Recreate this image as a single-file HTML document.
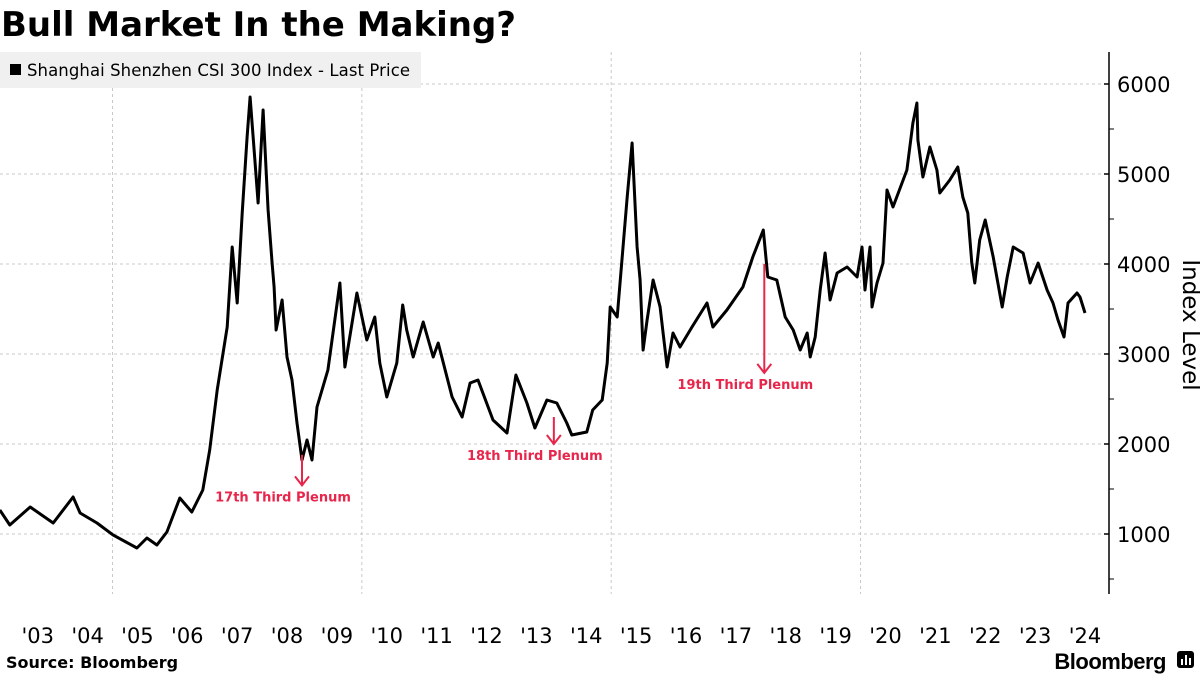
<!DOCTYPE html>
<html><head><meta charset="utf-8">
<style>
body{margin:0;background:#fff;width:1200px;height:675px;overflow:hidden;font-family:"DejaVu Sans","Liberation Sans",sans-serif;}
</style></head>
<body>
<svg width="1200" height="675" viewBox="0 0 1200 675" xmlns="http://www.w3.org/2000/svg">
<text x="1" y="36" font-family="DejaVu Sans, sans-serif" font-weight="bold" font-size="34" fill="#000">Bull Market In the Making?</text>
<g id="grid"></g>
<rect x="0" y="52" width="421" height="36" fill="#f0f0f0"/>
<rect x="10" y="64" width="11" height="11" fill="#000"/>
<text x="27" y="76" font-size="16.5" font-family="DejaVu Sans, sans-serif" fill="#000" textLength="383">Shanghai Shenzhen CSI 300 Index - Last Price</text>
<g id="axis"></g>
<g id="xlabels"></g>
<path id="line" fill="none" stroke="#000" stroke-width="3" stroke-linejoin="round"/>
<g id="notes"></g>
<text x="1183" y="325" font-size="23" font-family="DejaVu Sans, sans-serif" text-anchor="middle" transform="rotate(90 1183 325)">Index Level</text>
<text x="6" y="668" font-size="16" font-weight="bold" font-family="DejaVu Sans, sans-serif">Source: Bloomberg</text>
<text x="1166" y="669" font-size="22" font-weight="bold" font-family="Liberation Sans, sans-serif" text-anchor="end" letter-spacing="-0.5">Bloomberg</text>
<g><rect x="1177" y="651" width="17" height="17" rx="3" fill="#000"/><rect x="1181" y="659" width="2" height="6" fill="#fff"/><rect x="1185" y="655" width="2" height="10" fill="#fff"/><rect x="1189" y="658" width="2" height="7" fill="#fff"/></g>
</svg>
<script>
const dates=[2002.74,2002.94,2003.35,2003.81,2004.21,2004.35,2004.69,2005.01,2005.49,2005.69,2005.89,2006.09,2006.35,2006.59,2006.81,2006.95,2007.10,2007.30,2007.40,2007.50,2007.60,2007.70,2007.76,2007.86,2007.92,2008.02,2008.12,2008.20,2008.24,2008.28,2008.40,2008.50,2008.60,2008.70,2008.80,2008.90,2009.00,2009.10,2009.32,2009.56,2009.66,2009.90,2010.10,2010.26,2010.36,2010.50,2010.70,2010.82,2010.90,2011.03,2011.23,2011.43,2011.53,2011.81,2012.01,2012.17,2012.33,2012.63,2012.91,2013.09,2013.31,2013.47,2013.71,2013.91,2014.11,2014.21,2014.51,2014.63,2014.82,2014.92,2014.98,2015.12,2015.32,2015.42,2015.52,2015.58,2015.64,2015.72,2015.84,2015.98,2016.04,2016.12,2016.24,2016.38,2016.62,2016.92,2017.04,2017.32,2017.64,2017.84,2018.05,2018.14,2018.32,2018.49,2018.65,2018.79,2018.93,2018.99,2019.09,2019.19,2019.29,2019.39,2019.53,2019.73,2019.93,2020.03,2020.09,2020.19,2020.23,2020.33,2020.45,2020.53,2020.65,2020.93,2021.05,2021.13,2021.15,2021.25,2021.39,2021.53,2021.59,2021.79,2021.95,2022.05,2022.15,2022.23,2022.29,2022.39,2022.50,2022.60,2022.66,2022.84,2022.94,2023.06,2023.26,2023.40,2023.56,2023.74,2023.86,2023.96,2024.08,2024.16,2024.34,2024.40,2024.50];
const values=[1267,1100,1300,1122,1411,1233,1122,990,844,955,878,1022,1400,1244,1489,1933,2600,3300,4189,3567,4567,5411,5856,5122,4678,5711,4600,4011,3744,3267,3600,2967,2711,2233,1822,2044,1822,2411,2822,3789,2856,3678,3156,3411,2900,2522,2900,3544,3267,2967,3356,2967,3122,2522,2300,2678,2711,2267,2122,2767,2456,2178,2489,2456,2233,2100,2133,2378,2489,2900,3522,3411,4744,5344,4189,3822,3044,3378,3822,3522,3233,2856,3233,3078,3300,3567,3300,3489,3744,4078,4378,3856,3822,3411,3267,3044,3233,2967,3189,3711,4122,3600,3900,3967,3856,4189,3711,4189,3522,3789,4011,4822,4633,5044,5567,5789,5378,4967,5300,5044,4789,4933,5078,4744,4567,4011,3789,4267,4489,4233,4078,3522,3856,4189,4122,3789,4011,3711,3567,3378,3189,3567,3678,3633,3456];
const yTicks=[1000,2000,3000,4000,5000,6000];
const yMinor=[500,1500,2500,3500,4500,5500];
const xLabels=["'03","'04","'05","'06","'07","'08","'09","'10","'11","'12","'13","'14","'15","'16","'17","'18","'19","'20","'21","'22","'23","'24"];
const xGridYears=[2005,2010,2015,2020];
const notes=[{t:2008.80,from:1880,to:1540,label:"17th Third Plenum"},{t:2013.85,from:2300,to:2000,label:"18th Third Plenum"},{t:2018.07,from:4000,to:2790,label:"19th Third Plenum"}];

const NS="http://www.w3.org/2000/svg";
const X=t=>112.5+(t-2005)*49.87;
const Y=v=>534-(v-1000)*0.09;
function mk(tag,attrs,parent){const e=document.createElementNS(NS,tag);for(const k in attrs)e.setAttribute(k,attrs[k]);parent.appendChild(e);return e;}
const grid=document.getElementById('grid'),axis=document.getElementById('axis'),xl=document.getElementById('xlabels'),nt=document.getElementById('notes');
yTicks.forEach(v=>{
  const l=mk('line',{x1:0,x2:1109,y1:Y(v),y2:Y(v),stroke:'#c8c8c8','stroke-dasharray':'3,3','stroke-width':1},grid);
  
  
  const tk=mk('line',{x1:1104,x2:1109,y1:Y(v),y2:Y(v),stroke:'#000','stroke-width':1.5},axis);
  
  
  const tx=mk('text',{x:1117,y:Y(v)+8,'font-size':21,'font-family':'DejaVu Sans, sans-serif'},axis);
  tx.textContent=v;
  
  
});
yMinor.forEach(v=>{
  const tk=mk('line',{x1:1109,x2:1114,y1:Y(v),y2:Y(v),stroke:'#000','stroke-width':1},axis);
  
  
});
const ax=mk('line',{x1:1109,x2:1109,y1:52,y2:594,stroke:'#000','stroke-width':1.5},axis);


xGridYears.forEach(yr=>{
  const l=mk('line',{x1:X(yr),x2:X(yr),y1:52,y2:594,stroke:'#c8c8c8','stroke-dasharray':'3,3','stroke-width':1},grid);
  
  
});
xLabels.forEach((s,i)=>{
  const t=mk('text',{x:X(2003.5+i),y:643,'font-size':21,'text-anchor':'middle','font-family':'DejaVu Sans, sans-serif'},xl);
  t.textContent=s;
  
  
});
document.getElementById('line').setAttribute('d',dates.map((t,i)=>(i?'L':'M')+X(t).toFixed(1)+','+Y(values[i]).toFixed(1)).join(''));
notes.forEach(n=>{
  const x=X(n.t),y1=Y(n.from),y2=Y(n.to);
  const g=mk('g',{},nt);
  
  
  mk('line',{x1:x,x2:x,y1:y1,y2:y2,stroke:'#e8254a','stroke-width':2},g);
  mk('path',{d:`M${x-7},${y2-9}L${x},${y2}L${x+7},${y2-9}`,fill:'none',stroke:'#e8254a','stroke-width':2},g);
  const t=mk('text',{x:x-19,y:y2+16,'font-size':13,'font-weight':'bold','text-anchor':'middle',fill:'#e8254a','font-family':'DejaVu Sans, sans-serif'},g);
  t.textContent=n.label;
});
</script>
</body></html>
